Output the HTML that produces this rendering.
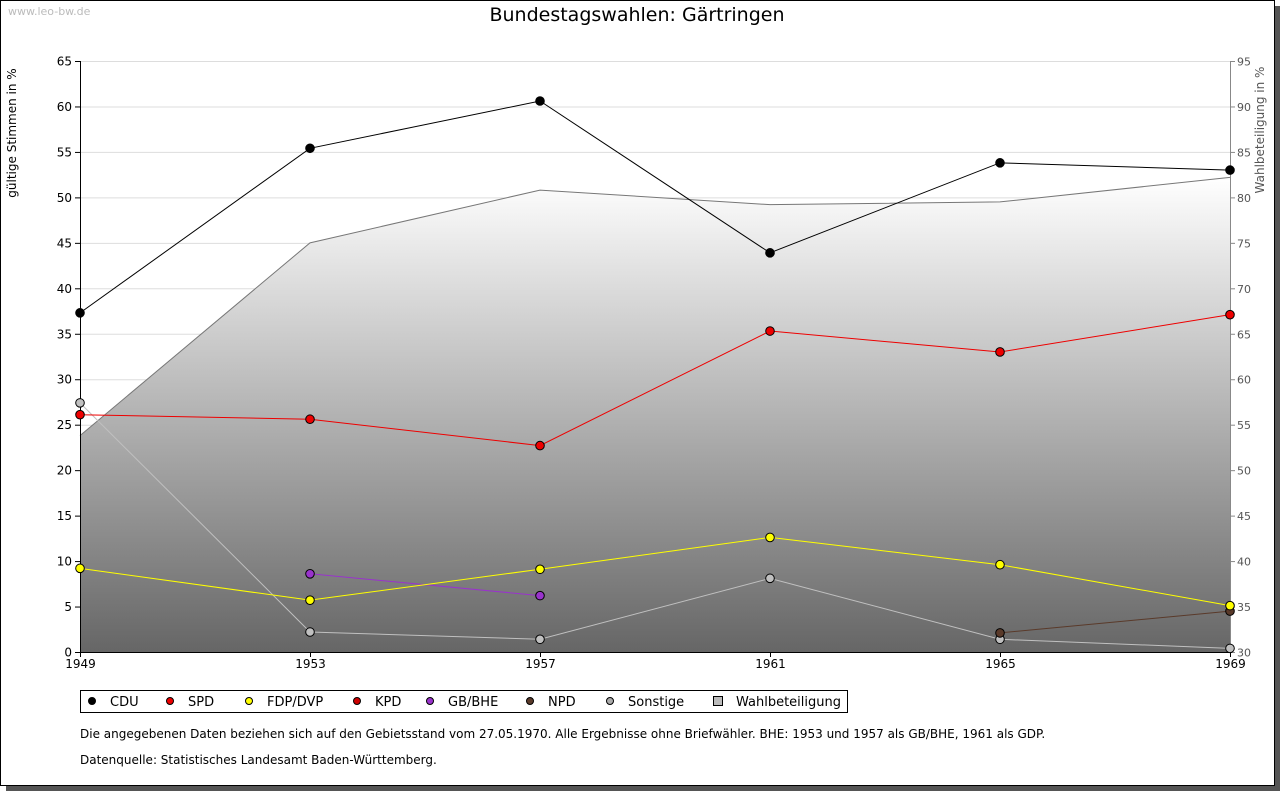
<!DOCTYPE html>
<html><head><meta charset="utf-8"><style>
body{margin:0;background:#fff;font-family:"Liberation Sans","DejaVu Sans",sans-serif}
svg text{font-family:"DejaVu Sans","Liberation Sans",sans-serif}
</style></head><body>
<svg id="c" width="1280" height="791" xmlns="http://www.w3.org/2000/svg">
<defs><linearGradient id="g" x1="0" y1="0" x2="0" y2="1"><stop offset="0" stop-color="#ffffff"/><stop offset="1" stop-color="#666666"/></linearGradient></defs>
<rect x="6" y="6" width="1274" height="785" fill="#555"/>
<rect x="0.5" y="0.5" width="1274" height="785" fill="#fff" stroke="#000"/>
<text x="8" y="15" font-size="11" fill="#bbb">www.leo-bw.de</text>
<text x="637" y="21" font-size="19" text-anchor="middle">Bundestagswahlen: Gärtringen</text>
<text transform="translate(16,133) rotate(-90)" font-size="12" text-anchor="middle">gültige Stimmen in %</text>
<text transform="translate(1264,130) rotate(-90)" font-size="12" fill="#555" text-anchor="middle">Wahlbeteiligung in %</text>
<g id="grid"></g><g id="area"></g><g id="axes"></g><g id="series"></g>
<g>
<rect x="80.5" y="690.5" width="767" height="22" fill="#fff" stroke="#000"/>
<g id="leg"></g></g>
<text x="80" y="738" font-size="12">Die angegebenen Daten beziehen sich auf den Gebietsstand vom 27.05.1970. Alle Ergebnisse ohne Briefwähler. BHE: 1953 und 1957 als GB/BHE, 1961 als GDP.</text>
<text x="80" y="764" font-size="12">Datenquelle: Statistisches Landesamt Baden-Württemberg.</text>
</svg>
<script>
const years=[1949,1953,1957,1961,1965,1969];
const cdu=[37.3,55.4,60.6,43.9,53.8,53.0];
const spd=[26.1,25.6,22.7,35.3,33.0,37.1];
const fdp=[9.2,5.7,9.1,12.6,9.6,5.1];
const gbbhe=[null,8.6,6.2,null,null,null];
const npd=[null,null,null,null,2.1,4.5];
const sonst=[27.4,2.2,1.4,8.1,1.4,0.4];
const wahl=[53.8,75.0,80.8,79.2,79.5,82.2];
const leftTicks=[0,5,10,15,20,25,30,35,40,45,50,55,60,65];
const rightTicks=[30,35,40,45,50,55,60,65,70,75,80,85,90,95];
const NS='http://www.w3.org/2000/svg';
const X0=80,X1=1230,Y0=652,Y1=61;
const xs=i=>X0+(X1-X0)*i/(years.length-1);
const yl=v=>Y0-(v/65)*(Y0-Y1);
const yr=v=>Y0-((v-30)/65)*(Y0-Y1);
function mk(p,t,a){const e=document.createElementNS(NS,t);for(const k in a)e.setAttribute(k,a[k]);p.appendChild(e);return e;}
const grid=document.getElementById('grid'),axes=document.getElementById('axes'),area=document.getElementById('area'),ser=document.getElementById('series');
leftTicks.forEach(v=>{const y=yl(v)+0.5;
 const l=mk(grid,'line',{x1:X0,x2:X1,y1:y,y2:y,stroke:'#ddd'});
 
 
 mk(axes,'line',{x1:X0-5,x2:X0,y1:y,y2:y,stroke:'#000'});
 const t=mk(axes,'text',{x:X0-8,y:y+4,'font-size':12,'text-anchor':'end'});t.textContent=v;
 
 });
rightTicks.forEach(v=>{const y=yr(v)+0.5;
 mk(axes,'line',{x1:X1,x2:X1+5,y1:y,y2:y,stroke:'#888'});
 const t=mk(axes,'text',{x:X1+7,y:y+4,'font-size':11,fill:'#555'});t.textContent=v;
 
 });
let d='M'+X0+','+Y0;wahl.forEach((v,i)=>d+=' L'+xs(i)+','+yr(v));d+=' L'+X1+','+Y0+' Z';
const ar=mk(area,'path',{d:d,fill:'url(#g)'});


const wl=mk(area,'polyline',{points:wahl.map((v,i)=>xs(i)+','+yr(v)).join(' '),fill:'none',stroke:'#777'});


mk(axes,'line',{x1:X0+0.5,x2:X0+0.5,y1:Y1,y2:Y0,stroke:'#000'});
mk(axes,'line',{x1:X1+0.5,x2:X1+0.5,y1:Y1,y2:Y0,stroke:'#888'});
mk(axes,'line',{x1:X0,x2:X1,y1:Y0+0.5,y2:Y0+0.5,stroke:'#000'});
years.forEach((yv,i)=>{const x=xs(i)+0.5;mk(axes,'line',{x1:x,x2:x,y1:Y0,y2:Y0+5,stroke:'#000'});
 const t=mk(axes,'text',{x:x,y:Y0+16,'font-size':12,'text-anchor':'middle'});t.textContent=yv;
 
 });
function series(vals,col,name){
 const pts=[];vals.forEach((v,i)=>{if(v!==null)pts.push([xs(i),yl(v)]);});
 const pl=mk(ser,'polyline',{points:pts.map(p=>p.join(',')).join(' '),fill:'none',stroke:col});
 
 
 pts.forEach(p=>{const m=mk(ser,'circle',{cx:p[0],cy:p[1],r:4.3,fill:col,stroke:'#000'});
  
  });
}
series(sonst,'#c0c0c0','sonstige');
series(npd,'#5a3a2a','npd');
series(gbbhe,'#9933cc','gb-bhe');
series(fdp,'#ffff00','fdp');
series(spd,'#ee0000','spd');
series(cdu,'#000000','cdu');
const legItems=[['CDU','#000',92],['SPD','#e00',170],['FDP/DVP','#ff0',249],['KPD','#c00',357],['GB/BHE','#93c',430],['NPD','#5a3a2a',530],['Sonstige','#aaa',610]];
const leg=document.getElementById('leg');
legItems.forEach(it=>{const x=it[2],y=701;
 const g=mk(leg,'g',{});
 
 
 mk(g,'circle',{cx:x,cy:y,r:3.5,fill:it[1],stroke:'#000'});
 const t=mk(g,'text',{x:x+18,y:y+5,'font-size':13});t.textContent=it[0];});
const g=mk(leg,'g',{});


mk(g,'rect',{x:713.5,y:696.5,width:9,height:9,fill:'#bbb',stroke:'#000'});
const t=mk(g,'text',{x:736,y:706,'font-size':13});t.textContent='Wahlbeteiligung';
</script>
</body></html>
